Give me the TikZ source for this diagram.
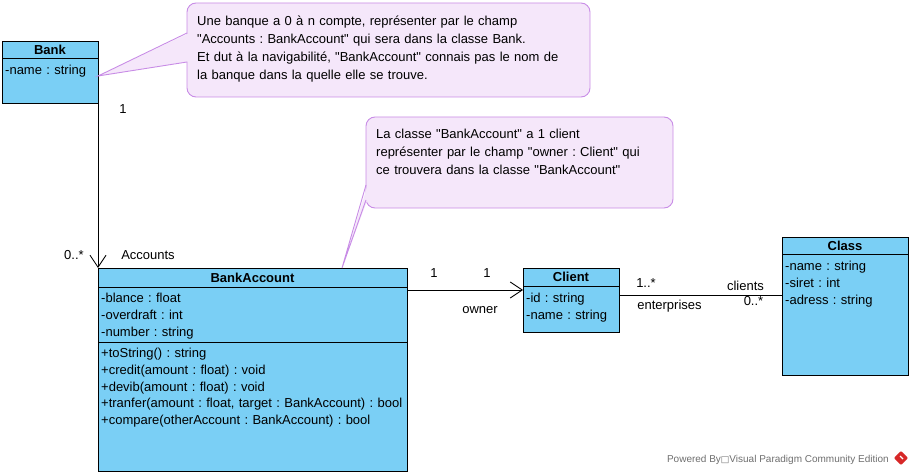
\documentclass[tikz,border=0pt]{standalone}
\usepackage{fontspec}
\setmainfont{Liberation Sans}[Ligatures=TeXOff]
\newfontfamily\symbolfont{DejaVu Sans}
\usepackage{tikz}
\definecolor{white}{rgb}{1.0, 1.0, 1.0}
\definecolor{black}{rgb}{0.0, 0.0, 0.0}
\definecolor{umlblue}{RGB}{122, 207, 245}
\definecolor{notepink}{RGB}{245, 231, 250}
\definecolor{notepurple}{RGB}{200, 140, 230}
\definecolor{vpgrey}{RGB}{110, 110, 110}
\definecolor{vpred}{RGB}{215, 40, 40}
\usetikzlibrary{arrows.meta}
\pgfdeclarelayer{edgelayer}
\pgfdeclarelayer{nodelayer}
\pgfsetlayers{edgelayer,nodelayer,main}
\newcommand{\umlfont}{\fontsize{13}{16.7}\selectfont\frenchspacing}
\tikzstyle{classbox}=[rectangle,fill=umlblue,draw=black,line width=0.9pt,anchor=north west,inner sep=0pt,outer sep=0pt]
\tikzstyle{classname}=[font=\umlfont\bfseries,inner sep=0pt]
\tikzstyle{member}=[font=\umlfont,anchor=north west,inner sep=0pt,text width=320pt,align=left]
\tikzstyle{notebox}=[rectangle,rounded corners=9pt,fill=notepink,draw=notepurple,line width=0.9pt,anchor=north west,inner sep=0pt,outer sep=0pt]
\tikzstyle{notetext}=[font=\fontsize{13}{18}\selectfont\frenchspacing,anchor=north west,inner sep=0pt,text width=390pt,align=left]
\tikzstyle{mult}=[font=\umlfont,anchor=base,inner sep=0pt]
\tikzstyle{assoc}=[line width=0.9pt]
\tikzstyle{nav}=[line width=0.9pt,-{Straight Barb[length=12pt,width=16pt]}]
\tikzstyle{pointer}=[draw=notepurple,line width=0.9pt]

\begin{document}
\begin{tikzpicture}[x=1pt,y=-1pt]
        \useasboundingbox (0,0) rectangle (913,476);
        \begin{pgfonlayer}{nodelayer}
            % classes
            \node [style = classbox, minimum width=96pt, minimum height=62pt] (bank) at (2, 41) {};
            \node [style = classbox, minimum width=309pt, minimum height=203pt] (bankaccount) at (98, 268) {};
            \node [style = classbox, minimum width=96pt, minimum height=64pt] (client) at (523, 268) {};
            \node [style = classbox, minimum width=126pt, minimum height=138pt] (class) at (782, 237) {};

            \draw [line width=0.9pt] ([yshift=-17pt]bank.north west) -- ([yshift=-17pt]bank.north east);
            \draw [line width=0.9pt] ([yshift=-19pt]bankaccount.north west) -- ([yshift=-19pt]bankaccount.north east);
            \draw [line width=0.9pt] ([yshift=-74pt]bankaccount.north west) -- ([yshift=-74pt]bankaccount.north east);
            \draw [line width=0.9pt] ([yshift=-18pt]client.north west) -- ([yshift=-18pt]client.north east);
            \draw [line width=0.9pt] ([yshift=-17pt]class.north west) -- ([yshift=-17pt]class.north east);

            \node [style = classname] (banktitle) at ([yshift=-8.5pt]bank.north) {Bank};
            \node [style = classname] (bankaccounttitle) at ([yshift=-9.5pt]bankaccount.north) {BankAccount};
            \node [style = classname] (clienttitle) at ([yshift=-9pt]client.north) {Client};
            \node [style = classname] (classtitle) at ([yshift=-8.5pt]class.north) {Class};

            \node [style = member] (bankattr) at ([xshift=3pt,yshift=-22pt]bank.north west) {\strut-name : string};
            \node [style = member] (bankaccountattr) at ([xshift=3pt,yshift=-23pt]bankaccount.north west)
                {\strut-blance : float\\-overdraft : int\\-number : string};
            \node [style = member] (bankaccountops) at ([xshift=3pt,yshift=-78pt]bankaccount.north west)
                {\strut+toString() : string\\+credit(amount : float) : void\\+devib(amount : float) : void\\%
                 +tranfer(amount : float, target : BankAccount) : bool\\+compare(otherAccount : BankAccount) : bool};
            \node [style = member] (clientattr) at ([xshift=3pt,yshift=-23pt]client.north west)
                {\strut-id : string\\-name : string};
            \node [style = member] (classattr) at ([xshift=3pt,yshift=-22pt]class.north west)
                {\strut-name : string\\-siret : int\\-adress : string};

            % notes
            \node [style = notebox, minimum width=403pt, minimum height=94pt] (note1) at (187, 3) {};
            \node [style = notetext] (note1text) at ([xshift=10pt,yshift=-10pt]note1.north west)
                {\strut Une banque a 0 à n compte, représenter par le champ\\"Accounts : BankAccount" qui sera dans la classe Bank.\\%
                 Et dut à la navigabilité, "BankAccount" connais pas le nom de\\la banque dans la quelle elle se trouve.};
            \node [style = notebox, minimum width=307pt, minimum height=91pt] (note2) at (366, 117) {};
            \node [style = notetext] (note2text) at ([xshift=10pt,yshift=-9pt]note2.north west)
                {\strut La classe "BankAccount" a 1 client\\représenter par le champ "owner : Client" qui\\ce trouvera dans la classe "BankAccount"};

            \coordinate (banktip) at ([yshift=-35pt]bank.north east);
            \coordinate (accounttip) at ([xshift=244pt]bankaccount.north west);
            \fill [notepink] (banktip) -- ([xshift=1.5pt,yshift=-30.5pt]note1.north west) -- ([xshift=1.5pt,yshift=-58.5pt]note1.north west) -- cycle;
            \draw [style = pointer] ([yshift=-30pt]note1.north west) -- (banktip) -- ([yshift=-59pt]note1.north west);
            \fill [notepink] (accounttip) -- ([xshift=1.5pt,yshift=-68.5pt]note2.north west) -- ([xshift=1.5pt,yshift=-82.5pt]note2.north west) -- cycle;
            \draw [style = pointer] ([yshift=-68pt]note2.north west) -- (accounttip) -- ([yshift=-83pt]note2.north west);

            % association ends
            \node [style = mult] (bankone) at (123, 113.5) {1};
            \node [style = mult] (accountsmany) at (74, 259.5) {0..*};
            \node [style = mult] (accountsrole) at (148, 259.5) {Accounts};
            \node [style = mult] (ownerfrom) at (434, 277.5) {1};
            \node [style = mult] (ownerto) at (487, 277.5) {1};
            \node [style = mult] (ownerrole) at (480, 313.5) {owner};
            \node [style = mult] (entermany) at (646, 287.5) {1..*};
            \node [style = mult] (enterrole) at (669.5, 309.5) {enterprises};
            \node [style = mult] (clientsrole) at (745.5, 290.5) {clients};
            \node [style = mult] (clientsmany) at (753.5, 305.5) {0..*};

            % watermark
            \node [font=\fontsize{10}{12}\selectfont, text=vpgrey, anchor=base east, inner sep=0pt] (powered) at (889, 462)
                {Powered By{\symbolfont\fontsize{9}{11}\selectfont □}Visual Paradigm Community Edition};
            \node [fill=vpred, rotate=45, minimum size=10pt, inner sep=0pt, rounded corners=1pt] (vplogo) at (901, 458) {};
            \draw [white, line width=1.3pt] ([xshift=-1pt,yshift=2pt]vplogo.center) -- ([xshift=2pt,yshift=-1pt]vplogo.center);
        \end{pgfonlayer}

        \begin{pgfonlayer}{edgelayer}
            \draw [style = nav] (bank.south east) to (bankaccount.north west);
            \draw [style = nav] ([yshift=-22pt]bankaccount.north east) to ([yshift=-22pt]client.north west);
            \draw [style = assoc] ([yshift=-27pt]client.north east) to ([yshift=-58pt]class.north west);
        \end{pgfonlayer}
    \end{tikzpicture}
\end{document}
